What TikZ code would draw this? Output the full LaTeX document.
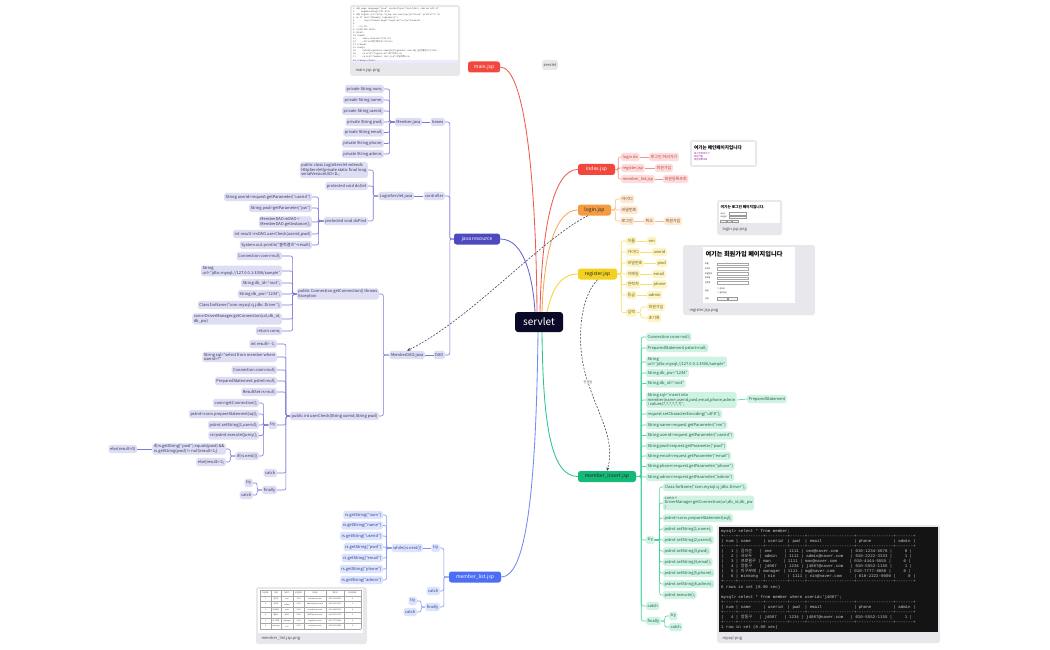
\documentclass[tikz,border=0pt]{standalone}
\usepackage{fontspec}
\setmainfont{Noto Sans CJK KR}
\setmonofont{Liberation Mono}
\newfontfamily\krf{Noto Sans CJK KR}
\usetikzlibrary{arrows.meta,calc}
\definecolor{rootF}{HTML}{0A0A28}
\definecolor{redF}{HTML}{F2473D}
\definecolor{redL}{HTML}{F25A50}
\definecolor{pinkF}{HTML}{FDDCDC}
\definecolor{pinkT}{HTML}{C23A33}
\definecolor{pinkL}{HTML}{F3908A}
\definecolor{orF}{HTML}{F59B3F}
\definecolor{orL}{HTML}{F8C28E}
\definecolor{orC}{HTML}{FDE9D4}
\definecolor{orT}{HTML}{7A4413}
\definecolor{orR}{HTML}{F7A95A}
\definecolor{yeF}{HTML}{F2D11F}
\definecolor{yeL}{HTML}{F6DF73}
\definecolor{yeC}{HTML}{FDF4C6}
\definecolor{yeT}{HTML}{6B5A00}
\definecolor{yeR}{HTML}{F2D536}
\definecolor{grF}{HTML}{16BA78}
\definecolor{grL}{HTML}{45D59C}
\definecolor{grC}{HTML}{CFF3E3}
\definecolor{grT}{HTML}{1D5E44}
\definecolor{grR}{HTML}{27C88A}
\definecolor{puF}{HTML}{4D4ABF}
\definecolor{puL}{HTML}{7C79DB}
\definecolor{puC}{HTML}{DDDDF4}
\definecolor{puT}{HTML}{35345E}
\definecolor{puR}{HTML}{6865D0}
\definecolor{blF}{HTML}{4C6EF5}
\definecolor{blL}{HTML}{7F98F8}
\definecolor{blC}{HTML}{DCE3FD}
\definecolor{blT}{HTML}{2E3F86}
\definecolor{blR}{HTML}{6F8CF7}
\definecolor{imgG}{HTML}{E8E8EC}
\definecolor{relC}{HTML}{3A3A55}
\definecolor{termT}{HTML}{C8C8C8}
\newcommand\fs{\fontsize{4}{4.7}\selectfont}
\newcommand\LL[4]{\foreach \c in {#3}{\draw[#1] (#2.west) -- ++(-#4,0) |- (\c.east);}}
\newcommand\RR[4]{\foreach \c in {#3}{\draw[#1] (#2.east) -- ++(#4,0) |- (\c.west);}}
\tikzset{
 tpbox/.style={rounded corners=1.8pt, inner xsep=1.5pt, inner ysep=1.1pt, minimum height=8.4pt, font=\fs, align=left},
 puc/.style={tpbox, fill=puC, text=puT},
 blc/.style={tpbox, fill=blC, text=blT},
 pkc/.style={tpbox, fill=pinkF, text=pinkT},
 orc/.style={tpbox, fill=orC, text=orT},
 yec/.style={tpbox, fill=yeC, text=yeT},
 grc/.style={tpbox, fill=grC, text=grT},
 ae/.style={anchor=east}, aw/.style={anchor=west},
 lnx/.style={line width=0.6pt, rounded corners=2pt},
 lpu/.style={lnx, draw=puL}, lbl/.style={lnx, draw=blL}, lpk/.style={lnx, draw=pinkL},
 lor/.style={lnx, draw=orL}, lye/.style={lnx, draw=yeL}, lgr/.style={lnx, draw=grL},
 brn/.style={rounded corners=2.5pt, minimum height=11pt, inner xsep=3pt, inner ysep=1pt, font=\fontsize{5}{6}\selectfont},
 rootst/.style={rounded corners=3pt, fill=rootF, text=white, minimum width=48pt, minimum height=20pt, font=\fontsize{10}{12}\selectfont},
 rcv/.style={line width=0.85pt},
 relx/.style={draw=relC, line width=0.55pt, dash pattern=on 2pt off 1.4pt, -{Stealth[length=3.5pt,width=3pt]}},
 imgbox/.style={fill=imgG, rounded corners=2.5pt},
 imglab/.style={anchor=west, font=\fontsize{4}{4}\selectfont, text=black!70},
 codel/.style={anchor=west, inner sep=0pt, font=\ttfamily\fontsize{2.2}{2.2}\selectfont, text=black!75},
 term/.style={anchor=west, inner sep=0pt, font=\ttfamily\fontsize{4.1}{4.1}\selectfont, text=termT},
 tcell/.style={inner sep=0pt, font=\fontsize{1.8}{1.8}\selectfont, text=black!80},
}
\begin{document}
\begin{tikzpicture}[x=1pt,y=-1pt]
\useasboundingbox (0,0) rectangle (1050,650);
\fill[white] (0,0) rectangle (1050,650);

% ---------- root and main branches ----------
\node[rootst] (root) at (539,322) {servlet};
\node[brn, fill=redF, text=white, minimum width=32pt] (main) at (484,67) {main.jsp};
\node[brn, fill=redF, text=white, minimum width=37pt] (index) at (596.5,169.5) {index.jsp};
\node[brn, fill=orF, text=black!85, minimum width=33pt] (login) at (594.5,210) {login.jsp};
\node[brn, fill=yeF, text=black!85, minimum width=39pt] (register) at (597.5,274) {register.jsp};
\node[brn, fill=grF, text=black!85, minimum width=58pt] (mi) at (607,476.5) {member\_insert.jsp};
\node[brn, fill=puF, text=white, minimum width=46pt] (jr) at (477,239) {java resource};
\node[brn, fill=blF, text=white, minimum width=52pt] (ml) at (475,577) {member\_list.jsp};
\node[tpbox, fill=imgG, text=black!75, minimum height=10pt] (sfl) at (550,65) {servlet};

\draw[rcv, redL] ($(root.north)+(-2,0)$) .. controls (536,180) and (525,67) .. (main.east);
\draw[rcv, redL] ($(root.north)+(1,0)$) .. controls (542,220) and (555,169.5) .. (index.west);
\draw[rcv, orR] ($(root.north)+(3,0)$) .. controls (544,250) and (556,210) .. (login.west);
\draw[rcv, yeR] ($(root.north)+(8,0)$) .. controls (552,290) and (560,274) .. (register.west);
\draw[rcv, puR] ($(root.north)+(-4,0)$) .. controls (533,280) and (525,239) .. (jr.east);
\draw[rcv, grR] ($(root.south)+(3,0)$) .. controls (543,420) and (550,476.5) .. (mi.west);
\draw[rcv, blR] ($(root.south)+(-1,0)$) .. controls (536,500) and (525,577) .. (ml.east);

% ---------- java resource ----------
\node[puc,ae] (beans) at (445,122) {beans};
\node[puc,ae] (ctrl) at (445,196) {controller};
\node[puc,ae] (dao) at (445,355) {DAO};
\LL{lpu}{jr}{beans,ctrl,dao}{4}
\node[puc,ae] (mj) at (422,122) {Member.java};
\draw[lpu] (beans.west) -- (mj.east);
\node[puc,ae] (f1) at (384,89) {private String num;};
\node[puc,ae] (f2) at (384,100) {private String name;};
\node[puc,ae] (f3) at (384,111) {private String userid;};
\node[puc,ae] (f4) at (384,122) {private String pwd;};
\node[puc,ae] (f5) at (384,132.5) {private String email;};
\node[puc,ae] (f6) at (384,143.5) {private String phone;};
\node[puc,ae] (f7) at (384,154) {private String admin;};
\LL{lpu}{mj}{f1,f2,f3,f4,f5,f6,f7}{5}

\node[puc,ae] (ls) at (414,196) {LoginServlet.java};
\draw[lpu] (ctrl.west) -- (ls.east);
\node[puc,ae] (ls1) at (368,170) {public class LoginServlet extends\\HttpServlet\{private static final long\\serialVersionUID=1L;};
\node[puc,ae] (ls2) at (368,186) {protected void doGet};
\node[puc,ae] (ls3) at (368,221) {protected void doPost};
\LL{lpu}{ls}{ls1,ls2,ls3}{5}
\node[puc,ae] (dp1) at (312,197) {String userid=request.getParameter("userid")};
\node[puc,ae] (dp2) at (312,208) {String pwd=getParameter("pw")};
\node[puc,ae] (dp3) at (312,222) {MemberDAO mDAO =\\MemberDAO.getInstance();};
\node[puc,ae] (dp4) at (312,234) {int result =mDAO.userCheck(userid,pwd)};
\node[puc,ae] (dp5) at (312,245) {System.out.println("출력결과"+result)};
\LL{lpu}{ls3}{dp1,dp2,dp3,dp4,dp5}{5}

\node[puc,ae] (md) at (425,355) {MemberDAO.java};
\draw[lpu] (dao.west) -- (md.east);
\node[puc,ae] (gc) at (379,294) {public Connection getConnection() throws\\Exception};
\node[puc,ae] (uc) at (379,416) {public int userCheck(String userid,String pwd)};
\LL{lpu}{md}{gc,uc}{6}
\node[puc,ae] (g1) at (282,256) {Connection conn=null;};
\node[puc,ae] (g2) at (282,271) {String\\url="jdbc:mysql://127.0.0.1:3306/sample"};
\node[puc,ae] (g3) at (282,283) {String db\_id="root";};
\node[puc,ae] (g4) at (282,294) {String db\_pw="1234";};
\node[puc,ae] (g5) at (282,305) {Class.forName("com.mysql.cj.jdbc.Driver");};
\node[puc,ae] (g6) at (282,319) {conn=DriverManager.getConnection(url,db\_id,\\db\_pw)};
\node[puc,ae] (g7) at (282,331) {return conn;};
\LL{lpu}{gc}{g1,g2,g3,g4,g5,g6,g7}{4}

\node[puc,ae] (u1) at (277,344) {int result= -1;};
\node[puc,ae] (u2) at (277,357) {String sql="select from member where\\userid=?"};
\node[puc,ae] (u3) at (277,370) {Connection conn=null;};
\node[puc,ae] (u4) at (277,381) {PreparedStatement pstmt=null;};
\node[puc,ae] (u5) at (277,392) {ResultSet rs=null;};
\node[puc,ae] (u6) at (277,425) {try};
\node[puc,ae] (u7) at (277,473) {catch};
\node[puc,ae] (u8) at (277,490) {finally};
\LL{lpu}{uc}{u1,u2,u3,u4,u5,u6,u7,u8}{4}
\node[puc,ae] (t1) at (259,403) {conn=getConnection();};
\node[puc,ae] (t2) at (259,414) {pstmt=conn.prepareStatement(sql);};
\node[puc,ae] (t3) at (259,425) {pstmt.setString(1,userid);};
\node[puc,ae] (t4) at (259,435.5) {rs=pstmt.executeQuery();};
\node[puc,ae] (t5) at (259,456) {if(rs.next())};
\LL{lpu}{u6}{t1,t2,t3,t4,t5}{5}
\node[puc,ae] (i1) at (226,449) {if(rs.getString("pwd").equals(pwd) \&\&\\rs.getString(pwd) != null)result=1;\}};
\node[puc,ae] (i2) at (226,462) {else\{result=-1;};
\LL{lpu}{t5}{i1,i2}{5}
\node[puc,ae] (i1a) at (137,449) {else\{result=0\}};
\draw[lpu] (i1.west) -- (i1a.east);
\node[puc,ae] (fy1) at (253,483) {try};
\node[puc,ae] (fy2) at (253,495) {catch};
\LL{lpu}{u8}{fy1,fy2}{5}

% ---------- member_list ----------
\node[blc,ae] (mt) at (440,548) {try};
\node[blc,ae] (mc) at (440,591) {catch};
\node[blc,ae] (mf) at (440,607) {finally};
\LL{lbl}{ml}{mt,mc,mf}{5}
\node[blc,ae] (mw) at (423,548) {while(rs.next())};
\draw[lbl] (mt.west) -- (mw.east);
\node[blc,ae] (r1) at (383,515) {rs.getString("num")};
\node[blc,ae] (r2) at (383,525.5) {rs.getString("name")};
\node[blc,ae] (r3) at (383,536) {rs.getString("userid")};
\node[blc,ae] (r4) at (383,547) {rs.getString("pwd")};
\node[blc,ae] (r5) at (383,558) {rs.getString("email")};
\node[blc,ae] (r6) at (383,569) {rs.getString("phone")};
\node[blc,ae] (r7) at (383,580) {rs.getString("admin")};
\LL{lbl}{mw}{r1,r2,r3,r4,r5,r6,r7}{5}
\node[blc,ae] (mf1) at (417,601) {try};
\node[blc,ae] (mf2) at (417,612) {catch};
\LL{lbl}{mf}{mf1,mf2}{4}

% ---------- index ----------
\node[pkc,aw] (p1) at (621,157) {login.do};
\node[pkc,aw] (p2) at (621,168) {register.jsp};
\node[pkc,aw] (p3) at (621,179) {member\_list.jsp};
\RR{lpk}{index}{p1,p2,p3}{3}
\node[pkc,aw] (p1a) at (649,157) {로그인 하러가기};
\node[pkc,aw] (p2a) at (655,168) {회원가입};
\node[pkc,aw] (p3a) at (663,179) {회원등록조회};
\draw[lpk] (p1.east) -- (p1a.west);
\draw[lpk] (p2.east) -- (p2a.west);
\draw[lpk] (p3.east) -- (p3a.west);

% ---------- login ----------
\node[orc,aw] (o1) at (620,199) {아이디};
\node[orc,aw] (o2) at (620,210) {비밀번호};
\node[orc,aw] (o3) at (620,221) {로그인};
\RR{lor}{login}{o1,o2,o3}{4}
\node[orc,aw] (o3a) at (644,221) {취소};
\node[orc,aw] (o3b) at (664,221) {회원가입};
\draw[lor] (o3.east) -- (o3a.west);
\draw[lor] (o3a.east) -- (o3b.west);

% ---------- register ----------
\node[yec,aw] (y1) at (626,241) {이름};
\node[yec,aw] (y2) at (626,252) {아이디};
\node[yec,aw] (y3) at (626,263) {비밀번호};
\node[yec,aw] (y4) at (626,274) {이메일};
\node[yec,aw] (y5) at (626,284.5) {연락처};
\node[yec,aw] (y6) at (626,295) {등급};
\node[yec,aw] (y7) at (626,312.5) {입력};
\RR{lye}{register}{y1,y2,y3,y4,y5,y6,y7}{4}
\node[yec,aw] (y1a) at (647,241) {nm};
\node[yec,aw] (y2a) at (652,252) {userid};
\node[yec,aw] (y3a) at (656,263) {pwd};
\node[yec,aw] (y4a) at (652,274) {email};
\node[yec,aw] (y5a) at (652,284.5) {phone};
\node[yec,aw] (y6a) at (647,295) {admin};
\foreach \a/\b in {y1/y1a,y2/y2a,y3/y3a,y4/y4a,y5/y5a,y6/y6a}{\draw[lye] (\a.east) -- (\b.west);}
\node[yec,aw] (y7a) at (647,307) {회원가입};
\node[yec,aw] (y7b) at (647,318) {초기화};
\RR{lye}{y7}{y7a,y7b}{4}

% ---------- member_insert ----------
\node[grc,aw] (n1) at (646,337) {Connection conn=null;};
\node[grc,aw] (n2) at (646,348) {PreparedStatement pstmt=null;};
\node[grc,aw] (n3) at (646,362) {String\\url="jdbc:mysql://127.0.0.1:3306/sample"};
\node[grc,aw] (n4) at (646,373) {String db\_pw="1234"};
\node[grc,aw] (n5) at (646,383.5) {String db\_id="root"};
\node[grc,aw] (n6) at (646,400) {String sql="insert into\\member(name,userid,pwd,email,phone,admin\\) values(?,?,?,?,?,?)";};
\node[grc,aw] (n7) at (646,414) {request.setCharacterEncoding("utf-8");};
\node[grc,aw] (n8) at (646,425) {String name=request.getParameter("nm")};
\node[grc,aw] (n9) at (646,435.5) {String userid=request.getParameter("userid")};
\node[grc,aw] (n10) at (646,446) {String pwd=request.getParameter("pwd")};
\node[grc,aw] (n11) at (646,456) {String email=request.getParameter("email")};
\node[grc,aw] (n12) at (646,466.5) {String phone=request.getParameter("phone")};
\node[grc,aw] (n13) at (646,477) {String admin=request.getParameter("admin")};
\node[grc,aw] (nt) at (646,540) {try};
\node[grc,aw] (nc) at (646,606) {catch};
\node[grc,aw] (nf) at (646,621) {finally};
\RR{lgr}{mi}{n1,n2,n3,n4,n5,n6,n7,n8,n9,n10,n11,n12,n13,nt,nc,nf}{5}
\node[grc,aw] (n6a) at (747,399) {PreparedStatement};
\draw[lgr] (n6.east) -- (n6a.west);
\node[grc,aw] (nt1) at (663,487) {Class.forName("com.mysql.cj.jdbc.Driver");};
\node[grc,aw] (nt2) at (663,503) {conn =\\DriverManager.getConnection(url,db\_id,db\_pw\\)};
\node[grc,aw] (nt3) at (663,518) {pstmt=conn.prepareStatement(sql);};
\node[grc,aw] (nt4) at (663,529) {pstmt.setString(1,name);};
\node[grc,aw] (nt5) at (663,540) {pstmt.setString(2,userid);};
\node[grc,aw] (nt6) at (663,551) {pstmt.setString(3,pwd);};
\node[grc,aw] (nt7) at (663,562) {pstmt.setString(4,email);};
\node[grc,aw] (nt8) at (663,573) {pstmt.setString(5,phone);};
\node[grc,aw] (nt9) at (663,584) {pstmt.setString(6,admin);};
\node[grc,aw] (nt10) at (663,595) {pstmt.execute();};
\RR{lgr}{nt}{nt1,nt2,nt3,nt4,nt5,nt6,nt7,nt8,nt9,nt10}{5}
\node[grc,aw] (nf1) at (669,616) {try};
\node[grc,aw] (nf2) at (669,627) {catch};
\RR{lgr}{nf}{nf1,nf2}{4}

% ---------- relationships ----------
\draw[relx] ($(login.south west)+(10,0)$) .. controls (540,240) and (470,320) .. (md.north);
\coordinate (rl) at (588,382);
\draw[relx] (register.south) .. controls (578,300) and (576,350) .. (rl) .. controls (598,415) and (616,440) .. (mi.north);
\node[fill=white, inner sep=0.6pt, font=\fontsize{3.2}{3.2}\selectfont, text=black!60] (rlabel) at (rl) {연결됨};

% ---------- screenshot: main.jsp.png ----------
\fill[imgbox] (350,5) rectangle (460,76);
\fill[white] (352,7) rectangle (458,63);
\fill[blue!8] (352,59.8) rectangle (458,62.6);
\node[codel] (c1) at (353,9) {1 <\%@ page language="java" contentType="text/html; charset=UTF-8"};
\node[codel] (c2) at (353,12) {2 \ \ \ \ pageEncoding="UTF-8"\%>};
\node[codel] (c3) at (353,15) {3 <\%@ taglib uri="http://java.sun.com/jsp/jstl/core" prefix="c" \%>};
\node[codel] (c4) at (353,18) {4 <c:if test="\$\{empty loginUser\}">};
\node[codel] (c5) at (353,21) {5 \ \ \ \ \ \ <jsp:forward page="login.do"></jsp:forward>};
\node[codel] (c6) at (353,24) {6};
\node[codel] (c7) at (353,27) {7 \ \ </c:if>};
\node[codel] (c8) at (353,30) {8 <!DOCTYPE html>};
\node[codel] (c9) at (353,33) {9 <html>};
\node[codel] (c10) at (353,36) {10 <head>};
\node[codel] (c11) at (353,39) {11 \ \ \ \ <meta charset="UTF-8">};
\node[codel] (c12) at (353,42) {12 \ \ \ \ <title>{\krf 메인 페이지}</title>};
\node[codel] (c13) at (353,45) {13 </head>};
\node[codel] (c14) at (353,48) {14 <body>};
\node[codel] (c15) at (353,51) {15 \ \ \ \ <h2>\$\{loginUser.name\}(\$\{loginUser.userid\}){\krf 님 환영합니다}</h2>};
\node[codel] (c16) at (353,54) {16 \ \ \ \ <a href="logout.do">{\krf 로그아웃}</a>};
\node[codel] (c17) at (353,57) {17 \ \ \ \ <a href="member\_list.jsp">{\krf 회원목록}</a>};
\node[codel] (c19) at (353,61.2) {18 </body></html>};
\node[imglab] (l1) at (352,70) {main.jsp.png};

% ---------- screenshot: index ----------
\fill[imgbox] (690,140) rectangle (757,167);
\fill[white] (692,142) rectangle (755,165);
\node[anchor=west, inner sep=0pt, font=\fontsize{4.6}{4.6}\selectfont\bfseries] (it) at (694,147.5) {여기는 메인페이지입니다};
\node[anchor=west, inner sep=0pt, font=\fontsize{2.4}{2.4}\selectfont, text=violet] (il1) at (694,154) {로그인하러가기};
\node[anchor=west, inner sep=0pt, font=\fontsize{2.4}{2.4}\selectfont, text=violet] (il2) at (694,157) {회원가입};
\node[anchor=west, inner sep=0pt, font=\fontsize{2.4}{2.4}\selectfont, text=violet] (il3) at (694,160) {회원목록조회};

% ---------- screenshot: login ----------
\fill[imgbox] (717,200) rectangle (782,235);
\fill[white] (719,202) rectangle (780,223);
\node[anchor=west, inner sep=0pt, font=\fontsize{3.7}{3.7}\selectfont\bfseries] (lt) at (720.5,207.5) {여기는 로그인 페이지입니다.};
\node[anchor=west, inner sep=0pt, font=\fontsize{1.7}{1.7}\selectfont] (lf1) at (720.5,213.5) {아이디};
\node[anchor=west, inner sep=0pt, font=\fontsize{1.7}{1.7}\selectfont] (lf2) at (720.5,217) {비밀번호};
\draw[black!40, line width=0.2pt] (729,212.5) rectangle (746,214.6) (729,216) rectangle (746,218.1);
\draw[black!40, fill=black!5, line width=0.2pt] (720.5,219.6) rectangle (726,221.6) (727,219.6) rectangle (731,221.6) (732,219.6) rectangle (738,221.6);
\node[imglab] (l2) at (719,229) {login.jsp.png};

% ---------- screenshot: register ----------
\fill[imgbox] (683,245) rectangle (815,315);
\fill[white] (703,247) rectangle (795,303);
\node[inner sep=0pt, font=\fontsize{6.2}{6.2}\selectfont\bfseries] (rt) at (744,254.5) {여기는 회원가입 페이지입니다};
\foreach \t/\yy in {이름/264, 아이디/268.7, 비밀번호/273.4, 이메일/278.1, 연락처/282.8}{
  \node[anchor=west, inner sep=0pt, font=\fontsize{1.9}{1.9}\selectfont] at (705,\yy) {\t};
  \draw[black!35, line width=0.2pt] (717,\yy-1.4) rectangle (748,\yy+1.4);
}
\node[anchor=west, inner sep=0pt, font=\fontsize{1.9}{1.9}\selectfont] (rg) at (705,291) {등급};
\node[anchor=west, inner sep=0pt, font=\fontsize{1.9}{1.9}\selectfont] (rg1) at (717,289) {○ 관리자};
\node[anchor=west, inner sep=0pt, font=\fontsize{1.9}{1.9}\selectfont] (rg2) at (717,293) {○ 일반회원};
\node[anchor=west, inner sep=0pt, font=\fontsize{1.9}{1.9}\selectfont] (ri) at (705,298.3) {입력};
\draw[black!40, fill=black!5, line width=0.2pt] (717,297) rectangle (727,299.6) (728.5,297) rectangle (737,299.6);
\node[imglab] (l3) at (686,310.5) {register.jsp.png};

% ---------- screenshot: member_list ----------
\fill[imgbox] (256,587) rectangle (367,644);
\fill[white] (258,589) rectangle (363,633);
\foreach \yy in {590,596,601.5,607,612.5,618,623.5,629}{\draw[black!35, line width=0.2pt] (260,\yy) -- (361,\yy);}
\foreach \xx in {260,271,281,293,304,326,344,361}{\draw[black!35, line width=0.2pt] (\xx,590) -- (\xx,629);}
\foreach \xx/\t in {265.5/회원번호, 276/이름, 287/아이디, 298.5/비밀번호, 315/이메일, 335/연락처, 352.5/관리자여부}{\node[tcell] at (\xx,593) {\t};}
\foreach \yy/\n/\nm/\id/\pw/\em/\ph/\ad in {598.8/1/김이순/one/1111/one@naver.com/010-1234-5678/0, 604.3/2/사오두/admin/1111/admin@naver.com/010-2222-3333/1, 609.8/3/프로필구/man/1111/man@naver.com/010-4444-5555/0, 615.3/4/장동구/j4087/1234/j4087@naver.com/010-5552-1155/1, 620.8/5/이구부래/manager/1111/mg@naver.com/010-7777-8888/0, 626.3/6/minkong/nin/1111/nin@naver.com/010-2222-0000/0}{
  \node[tcell] at (265.5,\yy) {\n};
  \node[tcell] at (276,\yy) {\nm};
  \node[tcell] at (287,\yy) {\id};
  \node[tcell] at (298.5,\yy) {\pw};
  \node[tcell] at (315,\yy) {\em};
  \node[tcell] at (335,\yy) {\ph};
  \node[tcell] at (352.5,\yy) {\ad};
}
\node[imglab] (l4) at (258,638.5) {member\_list.jsp.png};

% ---------- screenshot: mysql ----------
\fill[imgbox] (717,525) rectangle (940,643);
\fill[black!92] (719,527) rectangle (938,632);
\node[term] (m1) at (721,531) {mysql> select * from member;};
\node[term] (m2) at (721,536) {+-----+----------+---------+------+-------------------+---------------+-------+};
\node[term] (m3) at (721,541) {|~num~|~name~~~~~|~userid~~|~pwd~~|~email~~~~~~~~~~~~~|~phone~~~~~~~~~|~admin~|};
\node[term] (m4) at (721,546) {+-----+----------+---------+------+-------------------+---------------+-------+};
\node[term] (m5) at (721,551.5) {|~~~1~|~{\krf 김이순}~~~|~one~~~~~|~1111~|~one@naver.com~~~~~|~010-1234-5678~|~~~~~0~|};
\node[term] (m6) at (721,556.5) {|~~~2~|~{\krf 사오두}~~~|~admin~~~|~1111~|~admin@naver.com~~~|~010-2222-3333~|~~~~~1~|};
\node[term] (m7) at (721,561.5) {|~~~3~|~{\krf 프로필구}~|~man~~~~~|~1111~|~man@naver.com~~~~~|~010-4444-5555~|~~~~~0~|};
\node[term] (m8) at (721,566.5) {|~~~4~|~{\krf 장동구}~~~|~j4087~~~|~1234~|~j4087@naver.com~~~|~010-5552-1155~|~~~~~1~|};
\node[term] (m9) at (721,571.5) {|~~~5~|~{\krf 이구부래}~|~manager~|~1111~|~mg@naver.com~~~~~~|~010-7777-8888~|~~~~~0~|};
\node[term] (m10) at (721,576.5) {|~~~6~|~minkong~~|~nin~~~~~|~1111~|~nin@naver.com~~~~~|~010-2222-0000~|~~~~~0~|};
\node[term] (m11) at (721,581.5) {+-----+----------+---------+------+-------------------+---------------+-------+};
\node[term] (m12) at (721,587) {6 rows in set (0.00 sec)};
\node[term] (m13) at (721,597) {mysql> select * from member where userid='j4087';};
\node[term] (m14) at (721,602) {+-----+----------+---------+------+-------------------+---------------+-------+};
\node[term] (m15) at (721,607) {|~num~|~name~~~~~|~userid~~|~pwd~~|~email~~~~~~~~~~~~~|~phone~~~~~~~~~|~admin~|};
\node[term] (m16) at (721,612) {+-----+----------+---------+------+-------------------+---------------+-------+};
\node[term] (m17) at (721,617) {|~~~4~|~{\krf 장동구}~~~|~j4087~~~|~1234~|~j4087@naver.com~~~|~010-5552-1155~|~~~~~1~|};
\node[term] (m18) at (721,622) {+-----+----------+---------+------+-------------------+---------------+-------+};
\node[term] (m19) at (721,627.5) {1 row in set (0.00 sec)};
\node[imglab] (l5) at (719,638) {mysql.png};
\end{tikzpicture}
\end{document}
